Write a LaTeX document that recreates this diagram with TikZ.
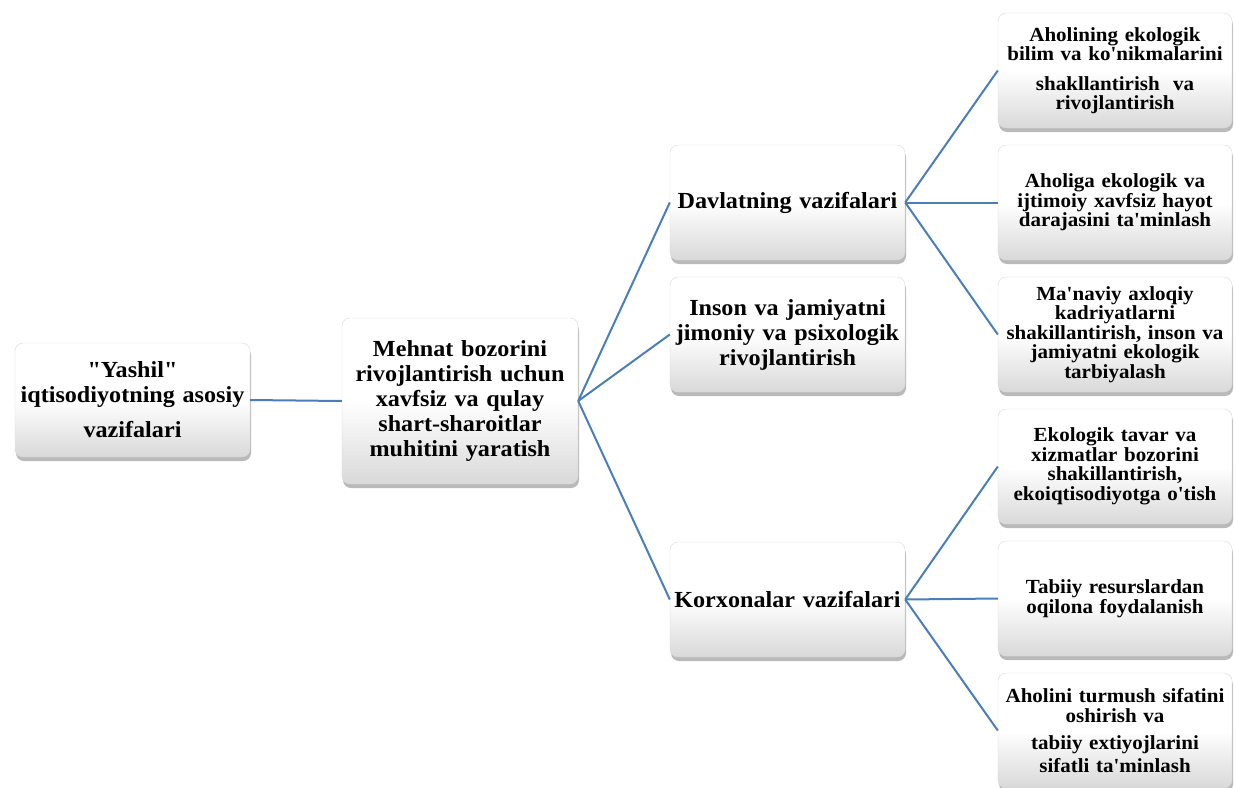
\documentclass[tikz,border=0pt]{standalone}
\usepackage{fontspec}
\setmainfont{Liberation Serif}[Ligatures=TeXOff,FakeStretch=1.05]
\usetikzlibrary{shadows}
\definecolor{linkblue}{RGB}{74,126,187}

\begin{document}
\begin{tikzpicture}[x=1pt,y=-1pt,
  box/.style={draw=black!15,line width=.4pt,rounded corners=8pt,top color=white,bottom color=black!15,middle color=white,
    drop shadow={shadow xshift=1pt,shadow yshift=-4pt,opacity=.55},minimum width=235pt,minimum height=115pt,
    text width=235pt,inner sep=0pt,align=center,font=\bfseries\fontsize{23}{25}\selectfont},
  smallbox/.style={box,font=\bfseries\fontsize{20}{19.5}\selectfont},
  link/.style={draw=linkblue,line width=2pt}]
\useasboundingbox (0,0) rectangle (1234,787);
\node at(132.5,400)[box,minimum height=114pt](a){"Yashil"\\iqtisodiyotning asosiy\\[10pt]vazifalari};
\node at(460,401)[box,minimum width=236pt,minimum height=166pt](b){Mehnat bozorini\\rivojlantirish uchun\\xavfsiz va qulay\\shart-sharoitlar\\muhitini yaratish};
\node at(787.5,202.5)[box](c1){Davlatning vazifalari};
\node at(787.5,334.5)[box](c2){Inson va jamiyatni\\jimoniy va psixologik\\rivojlantirish};
\node at(787.5,599.5)[box](c3){Korxonalar vazifalari};
\foreach \t[count=\i] in {
  {Aholining ekologik\\bilim va ko'nikmalarini\\[10pt]shakllantirish \ va\\rivojlantirish},
  {Aholiga ekologik va\\ijtimoiy xavfsiz hayot\\darajasini ta'minlash},
  {Ma'naviy axloqiy\\kadriyatlarni\\shakillantirish, inson va\\jamiyatni ekologik\\tarbiyalash},
  {Ekologik tavar va\\xizmatlar bozorini\\shakillantirish,\\ekoiqtisodiyotga o'tish},
  {Tabiiy resurslardan\\oqilona foydalanish},
  {Aholini turmush sifatini\\oshirish va\\[8pt]tabiiy extiyojlarini\\[3pt]sifatli ta'minlash}
}
\node at(1115,{70.5+132*(\i-1)})[smallbox,minimum width=234pt,text width=234pt](d\i){\t};
\draw[link](a.east)--(b.west);
\foreach \j in {1,2,3} \draw[link](b.east)--(c\j.west);
\foreach \j in {1,2,3} \draw[link](c1.east)--(d\j.west);
\foreach \j in {4,5,6} \draw[link](c3.east)--(d\j.west);
\end{tikzpicture}
\end{document}
